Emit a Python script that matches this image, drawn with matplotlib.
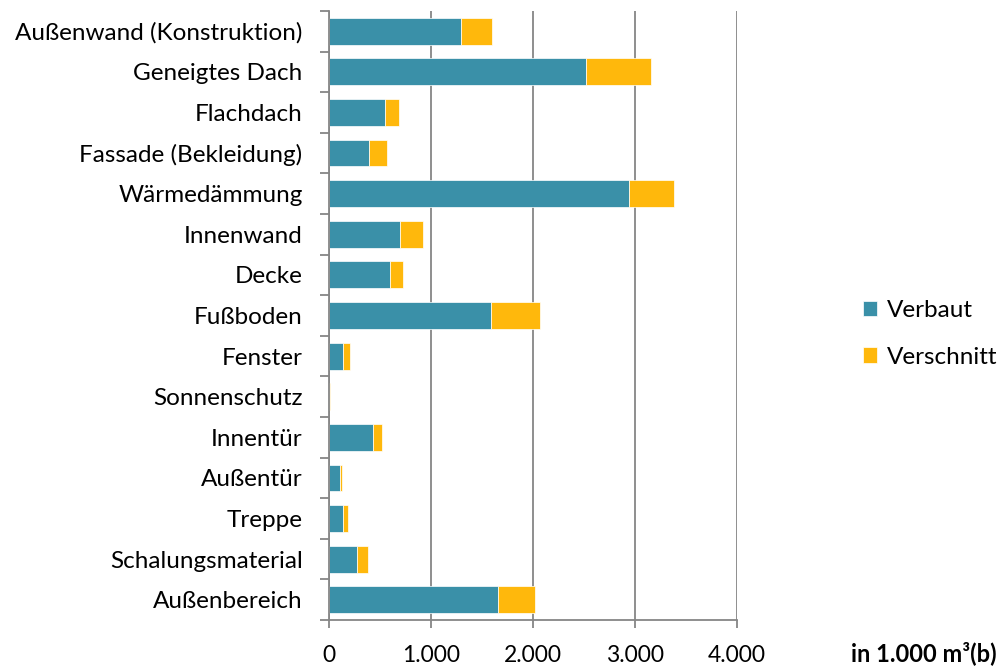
import matplotlib.pyplot as plt
import numpy as np

# Bauteilgruppen und Volumina (in 1.000 m³)
kategorien = ["Außenwand (Konstruktion)", "Geneigtes Dach", "Flachdach", "Fassade (Bekleidung)",
              "Wärmedämmung", "Innenwand", "Decke", "Fußboden", "Fenster", "Sonnenschutz",
              "Innentür", "Außentür", "Treppe", "Schalungsmaterial", "Außenbereich"]
verbaut = [1291, 2516, 549, 395, 2941, 699, 601, 1588, 137, 5, 435, 111, 134, 275, 1657]
verschnitt = [310, 644, 137, 177, 438, 223, 128, 481, 69, 10, 81, 20, 49, 111, 363]
x_ticks = [0, 1000, 2000, 3000, 4000]
x_labels = ["0", "1.000", "2.000", "3.000", "4.000"]

plt.rcParams['font.family'] = ['Lato', 'DejaVu Sans']
grau = "#868686"

fig = plt.figure(figsize=(10.02, 6.69), dpi=100)
ax = fig.add_axes([0.3283, 0.0732, 0.4072, 0.9104])

y = np.arange(len(kategorien))
ax.barh(y, verbaut, height=0.66, color="#3A90A8", edgecolor="white", linewidth=0.5, label="Verbaut")
ax.barh(y, verschnitt, left=verbaut, height=0.66, color="#FFB80C", edgecolor="white",
        linewidth=0.5, label="Verschnitt")

ax.set_xlim(0, 4000)
ax.set_ylim(len(kategorien) - 0.5, -0.5)
ax.set_xticks(x_ticks)
ax.set_xticklabels(x_labels, fontsize=16.5)
ax.set_yticks(y)
ax.set_yticklabels(kategorien, fontsize=17.5)
ax.set_yticks(np.arange(-0.5, len(kategorien)), minor=True)
ax.tick_params(axis="y", which="major", length=0, pad=19)
ax.tick_params(axis="y", which="minor", length=6.5, width=1.3, color=grau, direction="out")
ax.tick_params(axis="x", length=6, width=1.3, color=grau, pad=12)

ax.grid(axis="x", color=grau, linewidth=1.3)
ax.set_axisbelow(True)
for s in ["top", "right"]:
    ax.spines[s].set_visible(False)
for s in ["left", "bottom"]:
    ax.spines[s].set_color(grau)
    ax.spines[s].set_linewidth(1.3)

fig.text(0.995, 0.012, "in 1.000 m³(b)", ha="right", va="baseline", fontsize=17, fontweight="bold")

ax.legend(loc="center left", bbox_to_anchor=(1.255, 0.47), frameon=False, fontsize=17.5,
          handlelength=0.6, handleheight=0.6, handletextpad=0.4, labelspacing=1.05)

fig.savefig("out.png", dpi=100)
